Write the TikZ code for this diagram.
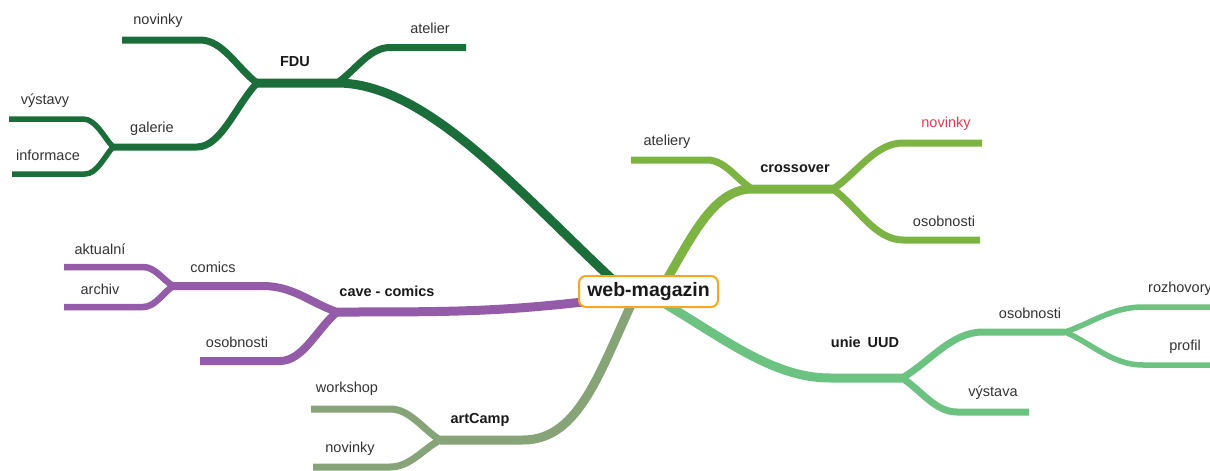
\documentclass[tikz,border=0pt]{standalone}
\usepackage{fontspec}
\setmainfont{Liberation Sans}
\definecolor{fdu}{HTML}{1B6D3A}
\definecolor{cross}{HTML}{7CB342}
\definecolor{unie}{HTML}{6CC281}
\definecolor{cave}{HTML}{935BA8}
\definecolor{art}{HTML}{87A378}
\definecolor{hubline}{HTML}{F5A623}
\definecolor{hot}{HTML}{E8384F}
\definecolor{lblgray}{HTML}{333333}
\begin{document}
\begin{tikzpicture}[x=1pt,y=-1pt,
  trunk/.style={line width=9pt},
  twig/.style={line width=7pt},
  leaf/.style={line width=5.5pt},
  lbl/.style={font=\fontsize{14.5}{17}\selectfont, text=lblgray, inner sep=0pt, anchor=center},
  blbl/.style={font=\fontsize{14.5}{17}\selectfont\bfseries, text=black!90, inner sep=0pt, anchor=center},
  hub/.style={draw=hubline, line width=2pt, fill=white, rounded corners=7pt,
    minimum width=139pt, minimum height=31pt, inner sep=0pt,
    font=\fontsize{19.5}{22}\selectfont\bfseries, text=black!90},
]
\useasboundingbox (0,0) rectangle (1210,471);

% ---------- coordinates ----------
% FDU
\coordinate (fduS) at (625,291);
\coordinate (fduA) at (337,83);
\coordinate (fduJ) at (257,83);
\coordinate (atE) at (390,47.5);  \coordinate (atF) at (466,47.5);
\coordinate (nvE) at (200,40);    \coordinate (nvF) at (122,40);
\coordinate (gaE) at (197,147);   \coordinate (gaJ) at (113,147);
\coordinate (vyE) at (83,119);    \coordinate (vyF) at (9,119);
\coordinate (inE) at (85,174);    \coordinate (inF) at (12,174);
% crossover
\coordinate (crS) at (660,291);
\coordinate (crJ) at (752,189);
\coordinate (crK) at (833,189);
\coordinate (aeE) at (707,160);   \coordinate (aeF) at (631,160);
\coordinate (cnE) at (903,143);   \coordinate (cnF) at (982,143);
\coordinate (coE) at (903,240);   \coordinate (coF) at (980,240);
% unie UUD
\coordinate (unS) at (650,295);
\coordinate (unJ) at (902,378);
\coordinate (uoE) at (983,332);   \coordinate (uoJ) at (1065,332);
\coordinate (uvE) at (957,412);   \coordinate (uvF) at (1029,412);
\coordinate (urE) at (1143,307);  \coordinate (urF) at (1215,307);
\coordinate (upE) at (1143,365);  \coordinate (upF) at (1215,365);
% cave - comics
\coordinate (caS) at (600,300);
\coordinate (caJ) at (337,312);
\coordinate (ccE) at (263,286);   \coordinate (ccJ) at (173,286);
\coordinate (coE2) at (280,361);  \coordinate (coF2) at (200,361);
\coordinate (akE) at (143,267);   \coordinate (akF) at (64,267);
\coordinate (arE) at (143,307);   \coordinate (arF) at (64,307);
% artCamp
\coordinate (acS) at (637,292);
\coordinate (acJ) at (440,440);
\coordinate (wsE) at (390,409);   \coordinate (wsF) at (311,409);
\coordinate (anE) at (390,467);   \coordinate (anF) at (313,467);

% ---------- FDU ----------
\begin{scope}[draw=fdu]
\draw[trunk] (fduS) .. controls (525,200) and (430,83) .. (fduA) -- (fduJ);
\draw[twig] (fduA) .. controls (355.5,70.6) and (369,47.5) .. (atE) -- (atF);
\draw[twig] (fduJ) .. controls (237,68) and (223,40) .. (nvE) -- (nvF);
\draw[twig] (fduJ) .. controls (236,105.4) and (221,147) .. (gaE) -- (gaJ);
\draw[leaf] (gaJ) .. controls (103.8,137.2) and (95.8,119) .. (vyE) -- (vyF);
\draw[leaf] (gaJ) .. controls (104.5,156.5) and (97,174) .. (inE) -- (inF);
\end{scope}

% ---------- crossover ----------
\begin{scope}[draw=cross]
\draw[trunk] (crS) .. controls (690,241) and (712,189) .. (crJ) -- (crK);
\draw[twig] (crJ) .. controls (736,178.9) and (725,160) .. (aeE) -- (aeF);
\draw[twig] (crK) .. controls (857.5,172.9) and (875,143) .. (cnE) -- (cnF);
\draw[twig] (crK) .. controls (857.5,206.9) and (875,240) .. (coE) -- (coF);
\end{scope}

% ---------- unie UUD ----------
\begin{scope}[draw=unie]
\draw[trunk] (unS) .. controls (720,335) and (770,378) .. (830,378) -- (unJ);
\draw[twig] (unJ) .. controls (930,362) and (951,332) .. (uoE) -- (uoJ);
\draw[twig] (unJ) .. controls (921,390) and (935,412) .. (uvE) -- (uvF);
\draw[leaf] (uoJ) .. controls (1092,323) and (1112,307) .. (urE) -- (urF);
\draw[leaf] (uoJ) .. controls (1092,343.5) and (1112,365) .. (upE) -- (upF);
\end{scope}

% ---------- cave - comics ----------
\begin{scope}[draw=cave]
\draw[trunk] (caS) .. controls (500,312) and (450,312) .. (caJ);
\draw[line width=8pt] (caJ) .. controls (311,303) and (293,286) .. (ccE) -- (ccJ);
\draw[line width=8pt] (caJ) .. controls (317,329) and (303,361) .. (coE2) -- (coF2);
\draw[line width=6.5pt] (ccJ) .. controls (162.5,279.4) and (155,267) .. (akE) -- (akF);
\draw[line width=6.5pt] (ccJ) .. controls (162.5,293.4) and (155,307) .. (arE) -- (arF);
\end{scope}

% ---------- artCamp ----------
\begin{scope}[draw=art]
\draw[trunk] (acS) .. controls (600,370) and (580,440) .. (523,440) -- (acJ);
\draw[twig] (acJ) .. controls (422.5,429) and (410,409) .. (wsE) -- (wsF);
\draw[twig] (acJ) .. controls (422.5,449.5) and (410,467) .. (anE) -- (anF);
\end{scope}

% ---------- hub ----------
\node[hub] (web) at (648.5,291.5) {web-magazin};

% ---------- labels ----------
\node[blbl] (lFDU) at (295,62) {FDU};
\node[lbl] (lat) at (430,28) {atelier};
\node[lbl] (lnv) at (158,21) {novinky};
\node[lbl] (lga) at (152,129) {galerie};
\node[lbl] (lvy) at (45,101) {výstavy};
\node[lbl] (lin) at (48,155) {informace};

\node[blbl] (lcr) at (795,169) {crossover};
\node[lbl] (lae) at (667,142) {ateliery};
\node[lbl, text=hot] (lcn) at (946,124) {novinky};
\node[lbl] (lco) at (944,221) {osobnosti};

\node[blbl] (lun) at (865,342) {unie\hspace{7pt}UUD};
\node[lbl] (luo) at (1030,313) {osobnosti};
\node[lbl] (luv) at (993,393) {výstava};
\node[lbl] (lur) at (1180,289) {rozhovory};
\node[lbl] (lup) at (1185,347) {profil};

\node[blbl] (lca) at (387,291) {cave - comics};
\node[lbl] (lcc) at (213,267) {comics};
\node[lbl] (lco2) at (237,342) {osobnosti};
\node[lbl] (lak) at (100,249) {aktualní};
\node[lbl] (lar) at (100,289) {archiv};

\node[blbl] (lac) at (480,420) {artCamp};
\node[lbl] (lws) at (347,389) {workshop};
\node[lbl] (lan) at (350,449) {novinky};
\end{tikzpicture}
\end{document}
